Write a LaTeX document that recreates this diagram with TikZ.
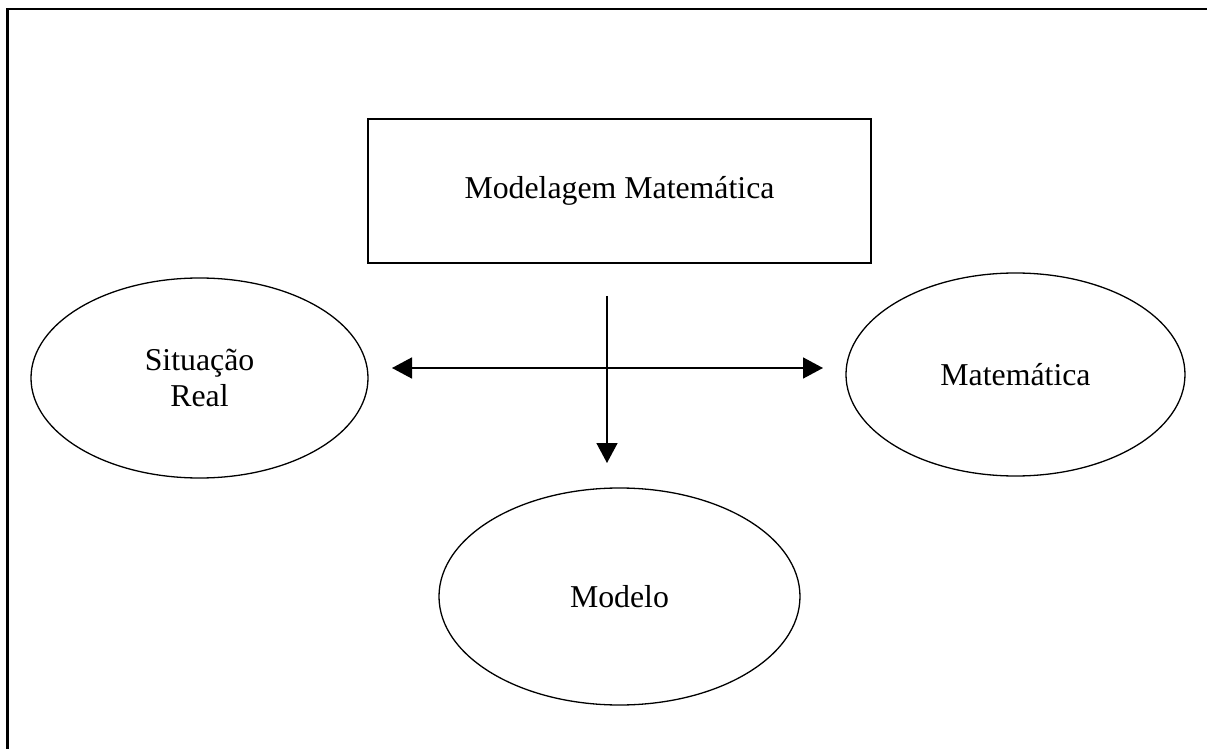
\documentclass[tikz,border=0pt]{standalone}
\usepackage{fontspec}
\setmainfont{Liberation Serif}
\usetikzlibrary{arrows.meta,positioning,shapes.geometric}
\definecolor{ink}{RGB}{0,0,0}
\tikzset{
  frame/.style={draw=ink,line width=1.2pt},
  titlebox/.style={draw=ink,line width=0.8pt,minimum width=251.5pt,minimum height=72pt,
    font=\fontsize{15.9}{16}\selectfont,inner sep=0pt},
  blob/.style={ellipse,draw=ink,line width=0.65pt,inner sep=0pt,align=center,
    font=\fontsize{15.9}{18}\selectfont},
  arr/.style={-{Triangle[length=10pt,width=10.5pt]},line width=0.8pt,ink},
  darr/.style={{Triangle[length=10pt,width=10.5pt]}-{Triangle[length=10pt,width=10.5pt]},line width=0.8pt,ink},
}

\begin{document}
\begin{tikzpicture}[x=0.5pt,y=-0.5pt]
  \useasboundingbox (0,0) rectangle (1207,749);
  \draw[frame] (7.5,760) -- (7.5,9) -- (1220,9);

  \node[titlebox] (MM) at (619.5,191) {Modelagem Matemática};
  \node[blob,minimum width=168.5pt,minimum height=100pt] (SR) at (199.5,378) {Situação\\Real};
  \node[blob,minimum width=169.5pt,minimum height=101.5pt] (MA) at (1015.5,374.5) {Matemática};
  \node[blob,minimum width=180.5pt,minimum height=108.5pt] (MO) at (619.5,596.5) {Modelo};

  \coordinate (hl) at (392,368);
  \coordinate (hr) at (823,368);
  \coordinate (vt) at (607,296);
  \coordinate (vb) at (607,463);
  \draw[darr] (hl) -- (hr);
  \draw[arr] (vt) -- (vb);
\end{tikzpicture}
\end{document}
